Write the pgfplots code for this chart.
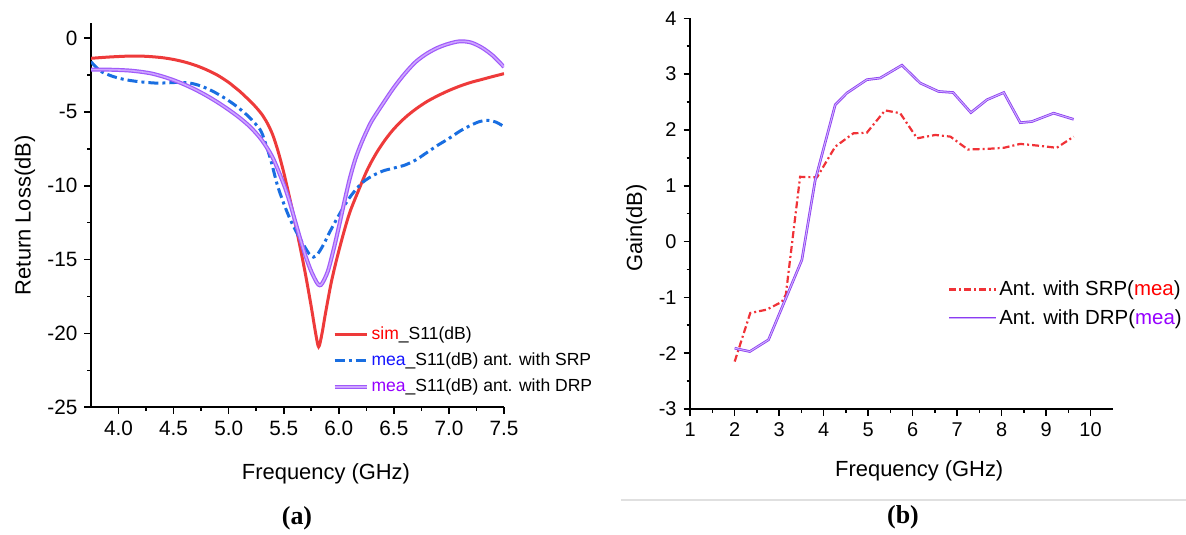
\documentclass[border=0pt]{standalone}
\usepackage{fontspec}
\setmainfont{Liberation Sans}
\newfontfamily\capfont{Liberation Serif}
\usepackage{pgfplots}
\pgfplotsset{compat=1.18}
\definecolor{simred}{RGB}{238,58,58}
\definecolor{srpblue}{RGB}{25,110,225}
\definecolor{drpedge}{RGB}{160,90,250}
\definecolor{drpfill}{RGB}{205,165,255}
\definecolor{rred}{RGB}{240,50,55}
\definecolor{redge}{RGB}{140,60,240}
\definecolor{rfill}{RGB}{205,175,255}
\definecolor{txtred}{RGB}{255,0,0}
\definecolor{txtblue}{RGB}{20,20,255}
\definecolor{txtpurple}{RGB}{150,0,255}
\pgfplotsset{
  /pgf/number format/assume math mode=true,
  common/.style={
    scale only axis,
    axis x line*=bottom, axis y line*=left,
    axis line style={line width=1bp, black},
    tick align=outside,
    major tick length=3.3bp, minor tick length=1.8bp,
    tick style={black, line width=0.8bp},
    minor x tick num=1, minor y tick num=1,
    legend cell align=left,
  }
}
\begin{document}
\begin{tikzpicture}
\useasboundingbox (0,0) rectangle (593bp,267.5bp);
\begin{axis}[common,
  at={(45.5bp,63.85bp)}, anchor=south west,
  width=206.5bp, height=192bp,
  xmin=3.75, xmax=7.5, ymin=-25, ymax=1,
  xtick={4,4.5,...,7.5}, ytick={-25,-20,...,0},
  xticklabel style={/pgf/number format/.cd, fixed, fixed zerofill, precision=1},
  tick label style={font=\fontsize{10.4}{12}\selectfont},
  xlabel={Frequency (GHz)}, ylabel={Return Loss(dB)},
  label style={font=\fontsize{11}{13}\selectfont},
  xlabel style={at={(axis description cs:0.569,-0.174)}, anchor=center},
  ylabel style={at={(axis description cs:-0.16,0.5)}, anchor=center},
  legend style={at={(axis description cs:0.584,0.218)}, anchor=north west, draw=none, fill=none,
    font=\fontsize{8.8}{10}\selectfont, inner sep=0pt, row sep=2.2bp, nodes={inner sep=1.5bp}},
  legend image code/.code={\draw[#1] (0bp,0bp) -- (16bp,0bp);},
]
\addplot[simred, line width=1.5bp, smooth] coordinates {
(3.75,-1.37) (3.9,-1.29) (4.0,-1.25) (4.1,-1.22) (4.2,-1.22) (4.3,-1.26) (4.4,-1.33)
(4.5,-1.45) (4.6,-1.62) (4.7,-1.85) (4.8,-2.15) (4.9,-2.52) (5.0,-3.0) (5.05,-3.3)
(5.1,-3.6) (5.15,-3.95) (5.2,-4.3) (5.25,-4.7) (5.3,-5.15) (5.35,-5.75) (5.4,-6.55)
(5.45,-7.7) (5.5,-9.1) (5.55,-10.7) (5.6,-12.4) (5.65,-14.2) (5.7,-16.1) (5.75,-18.2)
(5.79,-20.0) (5.817,-20.9) (5.845,-20.1) (5.88,-18.6) (5.93,-16.6) (5.98,-15.0)
(6.04,-13.3) (6.1,-11.8) (6.18,-10.3) (6.26,-8.9) (6.34,-7.8) (6.42,-6.9) (6.5,-6.15)
(6.6,-5.4) (6.7,-4.8) (6.8,-4.3) (6.9,-3.9) (7.0,-3.55) (7.1,-3.25) (7.2,-3.0)
(7.3,-2.8) (7.4,-2.6) (7.5,-2.41)};
\addlegendentry{\textcolor{txtred}{sim}\_S11(dB)}
\addplot[srpblue, line width=1.5bp, smooth, dash pattern=on 5bp off 2bp on 1.5bp off 2bp] coordinates {
(3.75,-1.6) (3.8,-2.0) (3.85,-2.3) (3.95,-2.6) (4.05,-2.8) (4.15,-2.92) (4.25,-3.0)
(4.35,-3.05) (4.45,-3.03) (4.55,-3.0) (4.65,-3.05) (4.75,-3.25) (4.85,-3.58) (4.95,-4.0)
(5.05,-4.5) (5.15,-5.1) (5.23,-5.7) (5.3,-6.4) (5.38,-8.2) (5.44,-9.9) (5.5,-11.2)
(5.56,-12.3) (5.62,-13.2) (5.68,-14.0) (5.73,-14.6) (5.77,-14.83) (5.81,-14.6)
(5.86,-14.0) (5.92,-13.1) (6.0,-12.0) (6.08,-11.0) (6.15,-10.3) (6.22,-9.75) (6.3,-9.35)
(6.4,-9.0) (6.5,-8.8) (6.6,-8.6) (6.7,-8.25) (6.8,-7.75) (6.9,-7.25) (7.0,-6.8)
(7.1,-6.3) (7.2,-5.9) (7.28,-5.65) (7.35,-5.57) (7.43,-5.7) (7.5,-6.0)};
\addlegendentry{\textcolor{txtblue}{mea}\_S11(dB) ant. with SRP}
\addplot[drpedge, line width=0.6bp, double=drpfill, double distance=0.8bp, smooth] coordinates {
(3.75,-2.14) (3.9,-2.14) (4.0,-2.16) (4.1,-2.2) (4.2,-2.28) (4.3,-2.4) (4.4,-2.6)
(4.5,-2.85) (4.6,-3.15) (4.7,-3.5) (4.8,-3.9) (4.9,-4.35) (5.0,-4.85) (5.1,-5.4)
(5.2,-6.05) (5.3,-6.9) (5.4,-8.1) (5.5,-9.9) (5.55,-11.0) (5.6,-12.3) (5.65,-13.6)
(5.7,-14.8) (5.75,-15.8) (5.8,-16.55) (5.826,-16.74) (5.85,-16.6) (5.9,-15.8)
(5.95,-14.4) (6.0,-12.8) (6.05,-11.1) (6.1,-9.5) (6.15,-8.2) (6.2,-7.2) (6.25,-6.35)
(6.3,-5.6) (6.4,-4.45) (6.5,-3.35) (6.6,-2.4) (6.7,-1.6) (6.8,-1.05) (6.9,-0.65)
(7.0,-0.38) (7.1,-0.22) (7.2,-0.3) (7.3,-0.65) (7.4,-1.2) (7.5,-1.96)};
\addlegendentry{\textcolor{txtpurple}{mea}\_S11(dB) ant. with DRP}
\end{axis}

\begin{axis}[common,
  at={(345.1bp,63bp)}, anchor=south west,
  width=211.3bp, height=195.35bp,
  xmin=1, xmax=10.5, ymin=-3, ymax=4,
  xtick={1,...,10}, ytick={-3,...,4},
  tick label style={font=\fontsize{10}{12}\selectfont},
  xlabel={Frequency (GHz)}, ylabel={Gain(dB)},
  label style={font=\fontsize{11}{13}\selectfont},
  xlabel style={at={(axis description cs:0.542,-0.159)}, anchor=center},
  ylabel style={at={(axis description cs:-0.127,0.463)}, anchor=center},
  legend style={at={(axis description cs:0.609,0.335)}, anchor=north west, draw=none, fill=none,
    font=\fontsize{10.25}{12}\selectfont, inner sep=0pt, row sep=3.5bp, nodes={inner sep=1bp}},
  legend image code/.code={\draw[#1] (0bp,0bp) -- (23.4bp,0bp);},
]
\addplot[rred, line width=1.1bp, dash pattern=on 3.5bp off 1.5bp on 1bp off 1.5bp] coordinates {
(2.0,-2.15) (2.35,-1.28) (2.72,-1.22) (3.06,-1.08) (3.15,-0.95) (3.47,1.16) (3.85,1.15)
(4.26,1.70) (4.67,1.94) (4.97,1.95) (5.38,2.35) (5.72,2.30) (6.10,1.85) (6.51,1.91)
(6.85,1.88) (7.24,1.65) (7.67,1.66) (8.05,1.68) (8.42,1.75) (8.80,1.72) (9.24,1.68)
(9.62,1.88)};
\addlegendentry{Ant. with SRP(\textcolor{txtred}{mea})}
\addplot[redge, line width=0.4bp, double=rfill, double distance=0.5bp] coordinates {
(2.0,-1.91) (2.1,-1.93) (2.34,-1.97) (2.76,-1.76) (3.51,-0.33) (3.81,1.10) (4.26,2.45)
(4.52,2.66) (4.97,2.90) (5.27,2.93) (5.76,3.16) (6.17,2.84) (6.58,2.69) (6.91,2.67)
(7.31,2.31) (7.67,2.54) (8.05,2.67) (8.42,2.13) (8.68,2.15) (9.17,2.30) (9.62,2.19)};
\addlegendentry{Ant. with DRP(\textcolor{txtpurple}{mea})}
\end{axis}

\draw[black!12, line width=0.6bp] (310.3bp,17.5bp) -- (593bp,17.5bp);
\node[font=\capfont\bfseries\fontsize{13}{15}\selectfont] at (148.5bp,8.5bp) {(a)};
\node[font=\capfont\bfseries\fontsize{13}{15}\selectfont] at (451.5bp,9bp) {(b)};
\end{tikzpicture}
\end{document}
